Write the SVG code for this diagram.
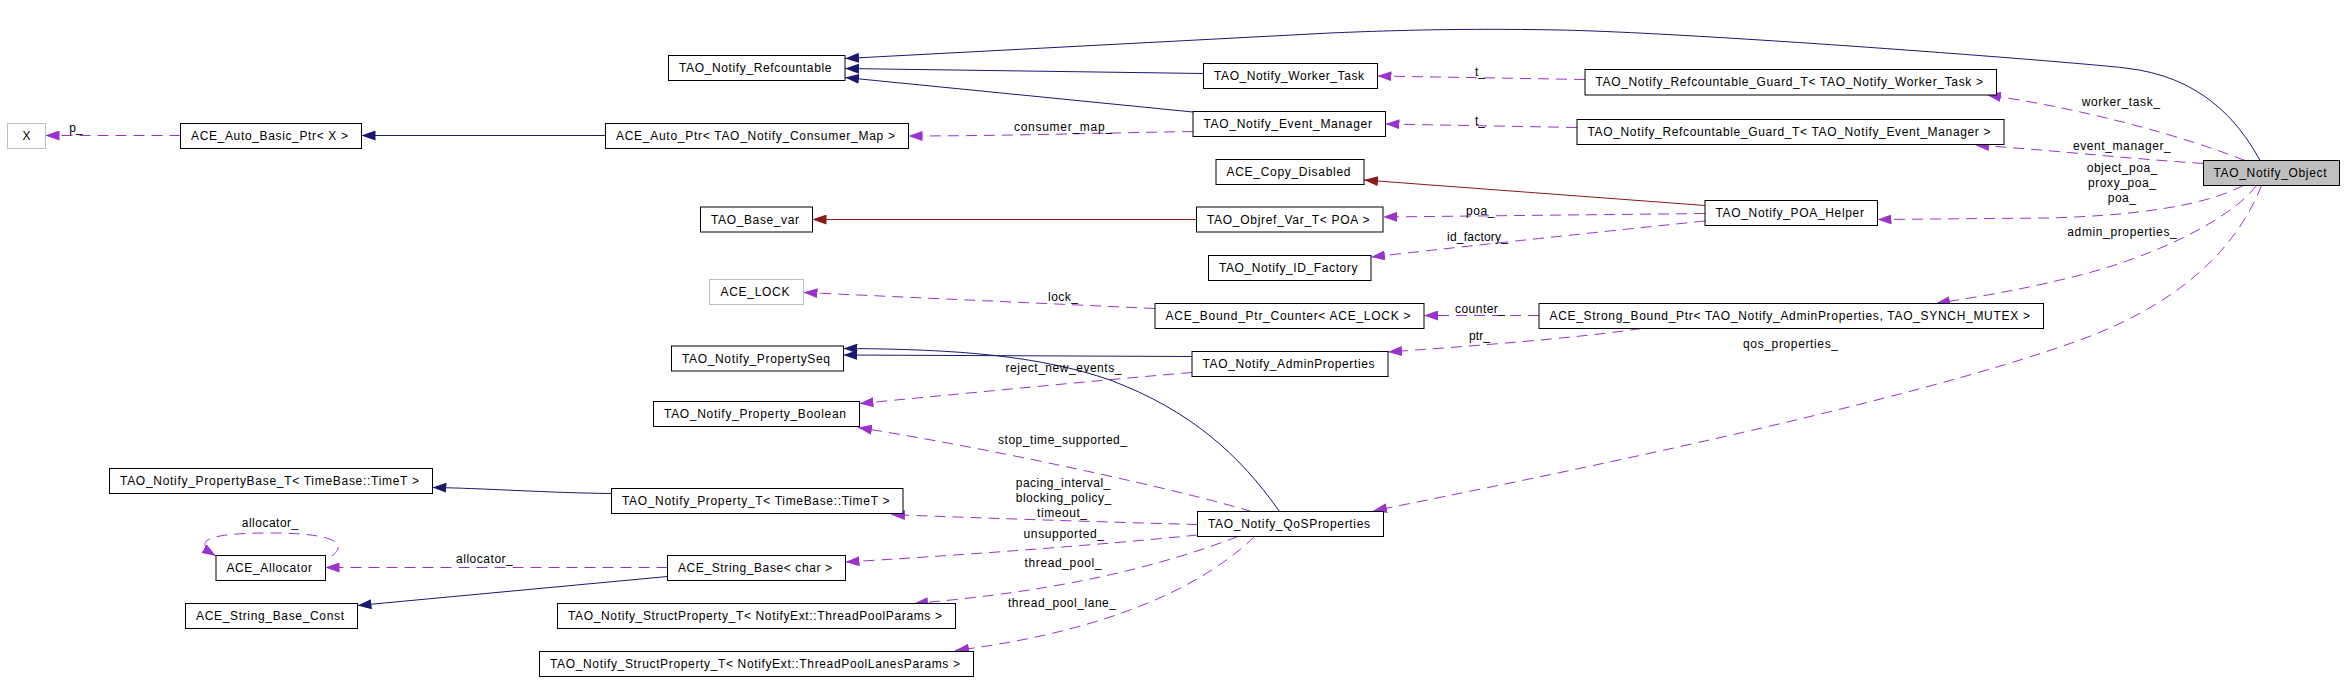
<svg xmlns="http://www.w3.org/2000/svg" width="2344" height="692" viewBox="0 0 2344 692">
<defs>
<style>
text{font-family:"Liberation Sans",Arial,Helvetica,sans-serif;font-size:12px;fill:#000}
.n rect{fill:#fff;stroke:#000;stroke-width:1}
.n.g rect{stroke:#bfbfbf}
.n.m rect{fill:#bfbfbf}
.n text{text-anchor:middle}
.e path{fill:none;stroke-width:1}
.inh{stroke:#191970}
.use{stroke:#9a32cd;stroke-dasharray:11,7}
.prv{stroke:#8b1a1a}
.thin{stroke-width:0.8}
</style>
<marker id="aN" viewBox="0 0 14 10" refX="14" refY="5" markerWidth="14" markerHeight="10" markerUnits="userSpaceOnUse" orient="auto"><path d="M0,0 L14,5 L0,10 z" fill="#191970"/></marker>
<marker id="aU" viewBox="0 0 14 10" refX="14" refY="5" markerWidth="14" markerHeight="10" markerUnits="userSpaceOnUse" orient="auto"><path d="M0,0 L14,5 L0,10 z" fill="#9a32cd"/></marker>
<marker id="aP" viewBox="0 0 14 10" refX="14" refY="5" markerWidth="14" markerHeight="10" markerUnits="userSpaceOnUse" orient="auto"><path d="M0,0 L14,5 L0,10 z" fill="#8b1a1a"/></marker>
</defs>
<rect width="2344" height="692" fill="#fff"/>

<g id="connectors" class="e">
<path class="use" marker-end="url(#aU)" d="M180.5,135.5 L45.5,135.5"/>
<path class="inh" marker-end="url(#aN)" d="M605.5,135.5 L361.5,135.5"/>
<path class="inh thin" marker-end="url(#aN)" d="M2260,160.5 C2238,120 2200,76 2125,68 C2075,62 1700,33 1560,30 C1450,28 1380,31 1330,33 L845,58.5"/>
<path class="inh" marker-end="url(#aN)" d="M1203.5,73.5 L845,68.5"/>
<path class="inh" marker-end="url(#aN)" d="M1193,112 L845,77.5"/>
<path class="use" marker-end="url(#aU)" d="M1193,131.5 C1100,133 1000,136 908.5,136"/>
<path class="use" marker-end="url(#aU)" d="M1585,79.5 L1377.5,76"/>
<path class="use" marker-end="url(#aU)" d="M1577,127.5 L1385.5,124"/>
<path class="prv" marker-end="url(#aP)" d="M1705,205.5 L1364,180"/>
<path class="prv" marker-end="url(#aP)" d="M1196.5,219.5 L812.5,219.5"/>
<path class="use" marker-end="url(#aU)" d="M1705,213.5 L1383,217"/>
<path class="use" marker-end="url(#aU)" d="M1705,221 Q1540,238 1371,257"/>
<path class="use" marker-end="url(#aU)" d="M1539,315.5 L1424,315.5"/>
<path class="use" marker-end="url(#aU)" d="M1155,308.5 L803.5,292.5"/>
<path class="use" marker-end="url(#aU)" d="M1641,328.5 C1580,338 1460,347 1388,352"/>
<path class="inh" marker-end="url(#aN)" d="M1192,356.5 L843.5,355"/>
<path class="inh thin" marker-end="url(#aN)" d="M1279.5,511.5 C1240,455 1190,410 1110,380 C1040,356 960,349 843.5,348.5"/>
<path class="use" marker-end="url(#aU)" d="M1192,372.5 C1100,380 950,395 859.5,403.5"/>
<path class="use" marker-end="url(#aU)" d="M1251.5,511.5 C1180,490 1000,450 858,427.5"/>
<path class="inh" marker-end="url(#aN)" d="M611.5,493.5 C550,493 480,488 432.5,487.5"/>
<path class="use" marker-end="url(#aU)" d="M1197.5,524.5 C1100,522 950,517 891,514.5"/>
<path class="use" marker-end="url(#aU)" d="M1197.5,535 C1100,545 950,556 845.5,562"/>
<path class="use" marker-end="url(#aU)" d="M667.5,567.5 L325.5,567.5"/>
<path class="inh" marker-end="url(#aN)" d="M667.5,576.5 L357.5,605.5"/>
<path class="use" marker-end="url(#aU)" d="M332,556 C346,545 340,533 270,533 C210,533 190,540 216,556"/>
<path class="use" marker-end="url(#aU)" d="M1238,536.5 C1150,570 1050,592 914,603.5"/>
<path class="use" marker-end="url(#aU)" d="M1254.5,536.5 C1210,580 1120,630 955,650.5"/>
<path class="use" marker-end="url(#aU)" d="M2245,160.5 C2180,135 2080,108 1987,95"/>
<path class="use" marker-end="url(#aU)" d="M2203.5,163.5 C2120,158 2050,150 1975,145"/>
<path class="use" marker-end="url(#aU)" d="M2243,185.5 C2210,203 2150,215 2050,218 L1877.5,219.5"/>
<path class="use" marker-end="url(#aU)" d="M2256.5,185.5 C2230,220 2150,260 2060,280 C2010,292 1970,298 1936,303.5"/>
<path class="use" marker-end="url(#aU)" d="M2261.5,185.5 C2240,240 2190,300 2080,340 C1900,405 1550,475 1373,511"/>
<g id="edge-labels">
<text x="69.3" y="131.5" textLength="13.4">p_</text>
<text x="1014" y="130.5" textLength="98">consumer_map_</text>
<text x="1475" y="76" textLength="10">t_</text>
<text x="1475" y="125" textLength="10">t_</text>
<text x="2081.7" y="106" textLength="78.3">worker_task_</text>
<text x="2073" y="150" textLength="97.7">event_manager_</text>
<text x="2086.7" y="172" textLength="70.6">object_poa_</text>
<text x="2088" y="186.5" textLength="68">proxy_poa_</text>
<text x="2107.7" y="201.5" textLength="28.3">poa_</text>
<text x="2067.3" y="236" textLength="109.4">admin_properties_</text>
<text x="1466" y="214.5" textLength="28.5">poa_</text>
<text x="1447" y="241" textLength="61">id_factory_</text>
<text x="1048" y="300.5" textLength="30">lock_</text>
<text x="1455" y="312.5" textLength="50">counter_</text>
<text x="1469" y="340" textLength="21">ptr_</text>
<text x="1743" y="347.5" textLength="95">qos_properties_</text>
<text x="1005.6" y="372" textLength="115.8">reject_new_events_</text>
<text x="998" y="444" textLength="129">stop_time_supported_</text>
<text x="1015.8" y="487" textLength="94.4">pacing_interval_</text>
<text x="1015.8" y="502" textLength="95.4">blocking_policy_</text>
<text x="1037" y="516.5" textLength="50">timeout_</text>
<text x="1023.5" y="537.5" textLength="80.5">unsupported_</text>
<text x="1024.5" y="567" textLength="77">thread_pool_</text>
<text x="1008" y="607" textLength="108">thread_pool_lane_</text>
<text x="241.7" y="527" textLength="56.6">allocator_</text>
<text x="456" y="563" textLength="56.8">allocator_</text>
</g>
</g>

<g id="n_X" class="n g"><rect x="7.5" y="123.5" width="38" height="25"/><text x="26.5" y="140">X</text></g>
<g id="n_ACE_Auto_Basic_Ptr" class="n"><rect x="180.5" y="123.5" width="181" height="25"/><text x="269.5" y="140" textLength="157">ACE_Auto_Basic_Ptr&lt; X &gt;</text></g>
<g id="n_TAO_Notify_Refcountable" class="n"><rect x="668.5" y="55.5" width="176.5" height="25"/><text x="755.2" y="72" textLength="152.5">TAO_Notify_Refcountable</text></g>
<g id="n_ACE_Auto_Ptr" class="n"><rect x="605.5" y="123.5" width="303" height="25"/><text x="755.5" y="140" textLength="279">ACE_Auto_Ptr&lt; TAO_Notify_Consumer_Map &gt;</text></g>
<g id="n_TAO_Base_var" class="n"><rect x="700.5" y="207" width="112" height="25"/><text x="755" y="223.5" textLength="88">TAO_Base_var</text></g>
<g id="n_TAO_Notify_Worker_Task" class="n"><rect x="1203.5" y="63.5" width="174" height="25"/><text x="1289" y="80" textLength="150">TAO_Notify_Worker_Task</text></g>
<g id="n_TAO_Notify_Event_Manager" class="n"><rect x="1193" y="111.5" width="192.5" height="25"/><text x="1287.7" y="128" textLength="168.5">TAO_Notify_Event_Manager</text></g>
<g id="n_ACE_Copy_Disabled" class="n"><rect x="1216" y="159.5" width="148" height="25"/><text x="1288.5" y="176" textLength="124">ACE_Copy_Disabled</text></g>
<g id="n_TAO_Objref_Var_T" class="n"><rect x="1196.5" y="207" width="186.5" height="25"/><text x="1288.2" y="223.5" textLength="162.5">TAO_Objref_Var_T&lt; POA &gt;</text></g>
<g id="n_Guard_Worker_Task" class="n"><rect x="1585" y="69.5" width="411.5" height="25.5"/><text x="1789.2" y="86.3" textLength="387.5">TAO_Notify_Refcountable_Guard_T&lt; TAO_Notify_Worker_Task &gt;</text></g>
<g id="n_Guard_Event_Manager" class="n"><rect x="1577" y="119.5" width="427" height="25"/><text x="1789" y="136" textLength="403">TAO_Notify_Refcountable_Guard_T&lt; TAO_Notify_Event_Manager &gt;</text></g>
<g id="n_TAO_Notify_Object" class="n m"><rect x="2203.5" y="160.5" width="136" height="25"/><text x="2270" y="177" textLength="113">TAO_Notify_Object</text></g>
<g id="n_TAO_Notify_POA_Helper" class="n"><rect x="1705" y="200.5" width="172.5" height="25"/><text x="1789.7" y="217" textLength="148.5">TAO_Notify_POA_Helper</text></g>
<g id="n_TAO_Notify_ID_Factory" class="n"><rect x="1208.5" y="255.5" width="162.5" height="25"/><text x="1288.2" y="272" textLength="138.5">TAO_Notify_ID_Factory</text></g>
<g id="n_ACE_LOCK" class="n g"><rect x="709.5" y="279.5" width="94" height="25"/><text x="755" y="296" textLength="69">ACE_LOCK</text></g>
<g id="n_ACE_Bound_Ptr_Counter" class="n"><rect x="1155" y="303.5" width="269" height="25"/><text x="1288" y="320" textLength="245">ACE_Bound_Ptr_Counter&lt; ACE_LOCK &gt;</text></g>
<g id="n_ACE_Strong_Bound_Ptr" class="n"><rect x="1539" y="303.5" width="504.5" height="25"/><text x="1789.7" y="320" textLength="480.5">ACE_Strong_Bound_Ptr&lt; TAO_Notify_AdminProperties, TAO_SYNCH_MUTEX &gt;</text></g>
<g id="n_TAO_Notify_PropertySeq" class="n"><rect x="671.5" y="346" width="172" height="25"/><text x="756" y="362.5" textLength="148">TAO_Notify_PropertySeq</text></g>
<g id="n_TAO_Notify_AdminProperties" class="n"><rect x="1192" y="351.5" width="196" height="25"/><text x="1288.5" y="368" textLength="172">TAO_Notify_AdminProperties</text></g>
<g id="n_TAO_Notify_Property_Boolean" class="n"><rect x="653.5" y="401.5" width="206" height="25"/><text x="755" y="418" textLength="182">TAO_Notify_Property_Boolean</text></g>
<g id="n_TAO_Notify_PropertyBase_T" class="n"><rect x="109.5" y="468.5" width="323" height="25"/><text x="269.5" y="485" textLength="299">TAO_Notify_PropertyBase_T&lt; TimeBase::TimeT &gt;</text></g>
<g id="n_TAO_Notify_Property_T" class="n"><rect x="611.5" y="488.5" width="291.5" height="25"/><text x="755.7" y="505" textLength="267.5">TAO_Notify_Property_T&lt; TimeBase::TimeT &gt;</text></g>
<g id="n_TAO_Notify_QoSProperties" class="n"><rect x="1197.5" y="511.5" width="186" height="25"/><text x="1289" y="528" textLength="162">TAO_Notify_QoSProperties</text></g>
<g id="n_ACE_Allocator" class="n"><rect x="216" y="555.5" width="109.5" height="25"/><text x="269.2" y="572" textLength="85.5">ACE_Allocator</text></g>
<g id="n_ACE_String_Base" class="n"><rect x="667.5" y="555.5" width="178" height="25"/><text x="755" y="572" textLength="154">ACE_String_Base&lt; char &gt;</text></g>
<g id="n_ACE_String_Base_Const" class="n"><rect x="185.5" y="603.5" width="172" height="25"/><text x="270" y="620" textLength="148">ACE_String_Base_Const</text></g>
<g id="n_StructProperty_ThreadPoolParams" class="n"><rect x="557.5" y="603.5" width="398" height="25"/><text x="755" y="620" textLength="374">TAO_Notify_StructProperty_T&lt; NotifyExt::ThreadPoolParams &gt;</text></g>
<g id="n_StructProperty_ThreadPoolLanesParams" class="n"><rect x="539.5" y="651.5" width="434" height="25"/><text x="755" y="668" textLength="410">TAO_Notify_StructProperty_T&lt; NotifyExt::ThreadPoolLanesParams &gt;</text></g>
</svg>
